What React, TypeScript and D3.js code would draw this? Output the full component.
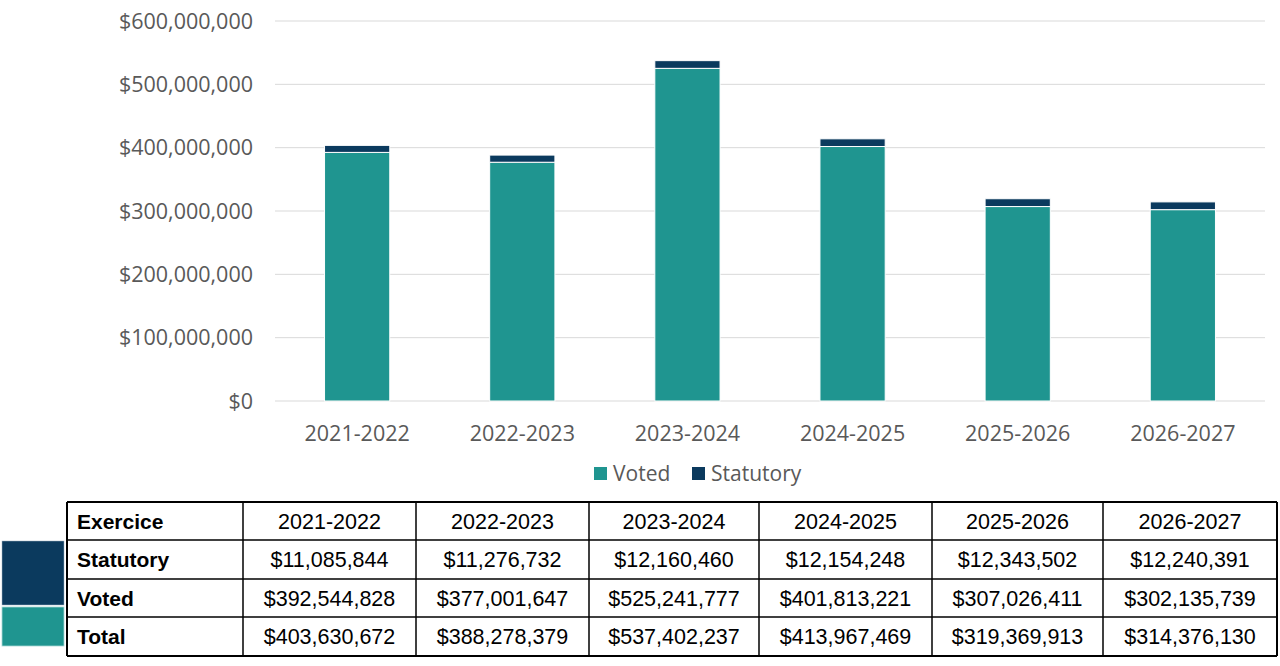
import React from "react";
import * as d3 from "d3";

const years = ["2021-2022", "2022-2023", "2023-2024", "2024-2025", "2025-2026", "2026-2027"];
const statutory = [11085844, 11276732, 12160460, 12154248, 12343502, 12240391];
const voted = [392544828, 377001647, 525241777, 401813221, 307026411, 302135739];
const totals = [403630672, 388278379, 537402237, 413967469, 319369913, 314376130];
const yTicks = [0, 100000000, 200000000, 300000000, 400000000, 500000000, 600000000];

const TEAL = "#1f9590";
const NAVY = "#0b3a5e";
const AXIS_FONT = "'Open Sans', 'Noto Sans', sans-serif";
const TABLE_FONT = "'Liberation Sans', Arial, sans-serif";

export default function App() {
  const W = 1280, H = 666;
  const x = d3.scaleBand<string>().domain(years).range([275, 1265]).paddingInner(0.605).paddingOuter(0.3);
  const y = d3.scaleLinear().domain([0, 600000000]).range([401, 21]);
  const money = (v: number) => "$" + d3.format(",")(v);

  const colX = [67, 243, 416, 589, 759, 932, 1103, 1277];
  const rowY = [502, 540, 579, 617, 656];
  const rows: [string, string[]][] = [
    ["Exercice", years],
    ["Statutory", statutory.map(money)],
    ["Voted", voted.map(money)],
    ["Total", totals.map(money)],
  ];

  return (
    <svg width={W} height={H} style={{ position: "absolute", left: 0, top: 0 }}>
      <rect width={W} height={H} fill="#fff" />
      {yTicks.map((t) => (
        <g key={t}>
          <line x1={275} x2={1265} y1={y(t)} y2={y(t)} stroke="#d9d9d9" strokeWidth={1} />
          <text x={253} y={y(t)} dy="0.35em" textAnchor="end" fontFamily={AXIS_FONT} fontSize={21.5} fill="#595959">
            {money(t)}
          </text>
        </g>
      ))}
      {years.map((yr, i) => {
        const bx = x(yr)!;
        const bw = x.bandwidth();
        return (
          <g key={yr}>
            <rect x={bx} y={y(voted[i])} width={bw} height={y(0) - y(voted[i])} fill={TEAL} stroke="#fff" strokeWidth={1} />
            <rect x={bx} y={y(voted[i] + statutory[i])} width={bw} height={y(voted[i]) - y(voted[i] + statutory[i])} fill={NAVY} stroke="#fff" strokeWidth={1} />
            <text x={bx + bw / 2} y={433} dy="0.35em" textAnchor="middle" fontFamily={AXIS_FONT} fontSize={21.5} fill="#595959">
              {yr}
            </text>
          </g>
        );
      })}
      {/* legend */}
      <rect x={594} y={467} width={13} height={13} fill={TEAL} />
      <text x={613} y={474} dy="0.35em" fontFamily={AXIS_FONT} fontSize={21} fill="#595959">Voted</text>
      <rect x={692} y={467} width={13} height={13} fill={NAVY} />
      <text x={711} y={474} dy="0.35em" fontFamily={AXIS_FONT} fontSize={21} fill="#595959">Statutory</text>

      {/* table legend swatches */}
      <rect x={2} y={541} width={62} height={64} fill={NAVY} stroke="#9fb4c4" strokeWidth={0.5} />
      <rect x={2} y={607} width={62} height={39} fill={TEAL} stroke="#a8d8d5" strokeWidth={0.8} />

      {/* table */}
      <g>
        {rowY.map((ry, i) => (
          <line key={"r" + i} x1={colX[0]} x2={colX[colX.length - 1]} y1={ry} y2={ry} stroke="#000" strokeWidth={i === 0 || i === rowY.length - 1 ? 2 : 1.5} />
        ))}
        {colX.map((cx, i) => (
          <line key={"c" + i} x1={cx} x2={cx} y1={rowY[0]} y2={rowY[rowY.length - 1]} stroke="#000" strokeWidth={i === 0 || i === colX.length - 1 ? 2 : 1.5} />
        ))}
        {rows.map(([label, vals], ri) => {
          const cy = (rowY[ri] + rowY[ri + 1]) / 2;
          return (
            <g key={label}>
              <text x={colX[0] + 10} y={cy} dy="0.36em" fontFamily={TABLE_FONT} fontWeight="bold" fontSize={21} fill="#000">
                {label}
              </text>
              {vals.map((v, ci) => (
                <text key={ci} x={(colX[ci + 1] + colX[ci + 2]) / 2} y={cy} dy="0.36em" textAnchor="middle" fontFamily={TABLE_FONT} fontSize={21.5} fill="#000">
                  {v}
                </text>
              ))}
            </g>
          );
        })}
      </g>
    </svg>
  );
}
